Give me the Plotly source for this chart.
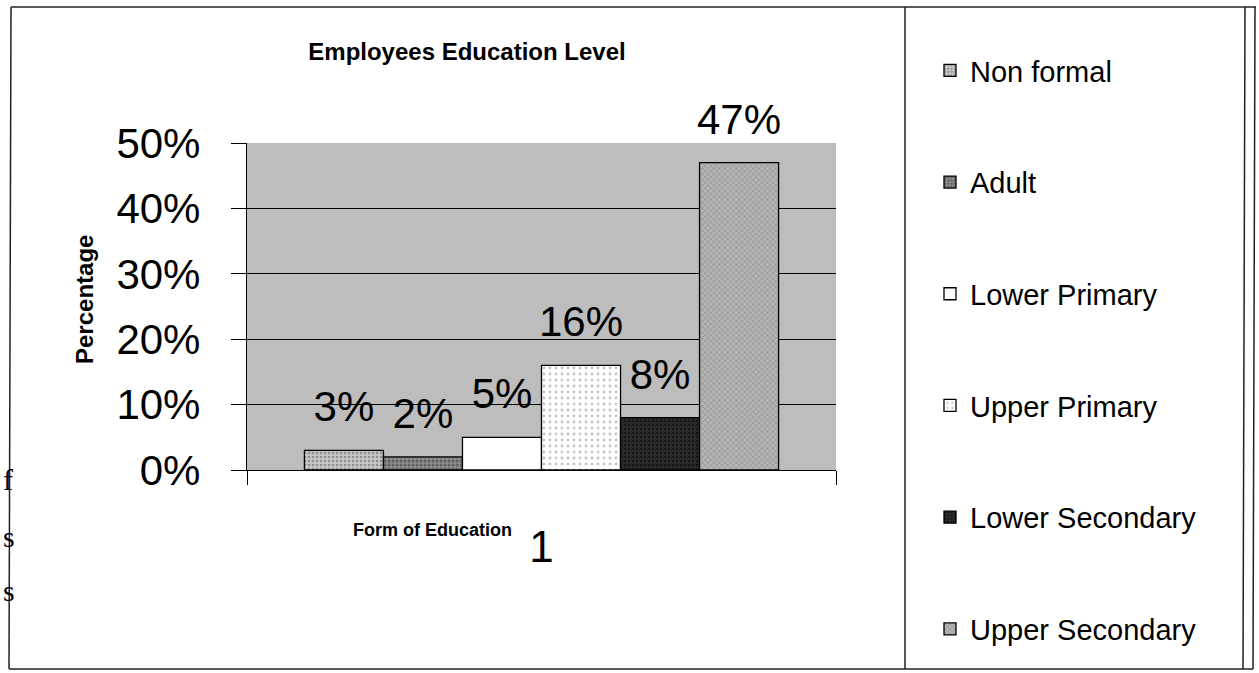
import plotly.graph_objects as go

# ---- data ----
categories = ["1"]
series_names = ["Non formal", "Adult", "Lower Primary", "Upper Primary",
                "Lower Secondary", "Upper Secondary"]
series_values = [0.03, 0.02, 0.05, 0.16, 0.08, 0.47]
y_ticks = [0.0, 0.1, 0.2, 0.3, 0.4, 0.5]
y_tick_labels = ["0%", "10%", "20%", "30%", "40%", "50%"]

# ---- styles (grayscale, print-like) ----
base_colors = ["#c6c6c6", "#8c8c8c", "#ffffff", "#ffffff", "#2a2a2a", "#b4b4b4"]
pat_shapes = [".", ".", "", ".", ".", "x"]
pat_fg = ["#555555", "#333333", "#000000", "#8a8a8a", "#000000", "#5a5a5a"]
pat_size = [4, 4, 6, 6, 4, 4]
pat_solid = [0.35, 0.45, 0.2, 0.18, 0.3, 0.25]

FONT = "Arial, 'Liberation Sans', sans-serif"
GAP = 0.195

fig = go.Figure()
for i, (name, val) in enumerate(zip(series_names, series_values)):
    fig.add_trace(go.Bar(
        name=name,
        x=categories,
        y=[val],
        legendgroup=name,
        offsetgroup=str(i),
        marker=dict(
            color=base_colors[i],
            line=dict(color="black", width=1.3),
            pattern=dict(shape=pat_shapes[i], fgcolor=pat_fg[i], size=pat_size[i],
                         solidity=pat_solid[i], fillmode="overlay"),
        ),
        hoverinfo="name+y",
    ))
# data labels as text-only scatter traces grouped like the bars
for i, (name, val) in enumerate(zip(series_names, series_values)):
    fig.add_trace(go.Scatter(
        x=categories,
        y=[val],
        offsetgroup=str(i),
        mode="markers+text",
        marker=dict(size=28, color="rgba(0,0,0,0)"),
        text=[f"{val:.0%}"],
        textposition="top center",
        textfont=dict(family=FONT, size=42, color="black"),
        cliponaxis=False,
        showlegend=False,
        hoverinfo="skip",
    ))

# pixel helpers for plot area: x 247..836, y 143..470
L, R, T, B = 247, 836, 143, 470
W, H = 1259, 673
def px(x):
    return (x - L) / (R - L)
def py(y):
    return (B - y) / (B - T)

line = dict(color="#222222", width=1.5)
shapes = [
    dict(type="line", xref="paper", yref="paper", x0=px(11), x1=px(1256), y0=py(7), y1=py(7), line=line),
    dict(type="line", xref="paper", yref="paper", x0=px(11), x1=px(9), y0=py(7), y1=py(669), line=line),
    dict(type="line", xref="paper", yref="paper", x0=px(9), x1=px(1253), y0=py(669), y1=py(669), line=line),
    dict(type="line", xref="paper", yref="paper", x0=px(905), x1=px(905), y0=py(7), y1=py(669), line=line),
    dict(type="line", xref="paper", yref="paper", x0=px(1245), x1=px(1243), y0=py(7), y1=py(669), line=line),
    dict(type="line", xref="paper", yref="paper", x0=px(1255), x1=px(1253), y0=py(7), y1=py(669), line=line),
]

serif = "'Liberation Serif', 'DejaVu Serif', serif"
annotations = [
    dict(text="<b>Form of Education</b>", xref="paper", yref="paper", x=px(432), y=py(530),
         showarrow=False, font=dict(family=FONT, size=18, color="black"), xanchor="center", yanchor="middle"),
    dict(text="<b>Percentage</b>", xref="paper", yref="paper", x=px(84), y=py(300), textangle=-90,
         showarrow=False, font=dict(family=FONT, size=24, color="black"), xanchor="center", yanchor="middle"),
    dict(text="f", xref="paper", yref="paper", x=px(1), y=py(498), showarrow=False, xanchor="left",
         font=dict(family=serif, size=30, color="black")),
    dict(text="s", xref="paper", yref="paper", x=px(1), y=py(555), showarrow=False, xanchor="left",
         font=dict(family=serif, size=30, color="black")),
    dict(text="s", xref="paper", yref="paper", x=px(1), y=py(609), showarrow=False, xanchor="left",
         font=dict(family=serif, size=30, color="black")),
]

fig.update_layout(
    width=W, height=H,
    margin=dict(l=L, r=W - R, t=T, b=H - B, pad=0),
    paper_bgcolor="white",
    plot_bgcolor="#bdbdbd",
    barmode="group",
    bargap=GAP,
    bargroupgap=0,
    scattermode="group",
    scattergap=GAP,
    font=dict(family=FONT, color="black"),
    title=dict(text="<b>Employees Education Level</b>", xref="container", yref="container",
               x=467 / W, y=1 - 52 / H, xanchor="center", yanchor="middle",
               font=dict(family=FONT, size=24, color="black")),
    showlegend=True,
    legend=dict(x=930 / W, y=1 - 45 / H, xref="container", yref="container",
                xanchor="left", yanchor="top",
                font=dict(family=FONT, size=29, color="black"),
                tracegroupgap=71, traceorder="grouped",
                maxheight=660,
                bgcolor="rgba(0,0,0,0)", borderwidth=0),
    shapes=shapes,
    annotations=annotations,
)
fig.update_xaxes(
    type="category",
    showline=True, linecolor="black", linewidth=1.3,
    ticks="outside", tickson="boundaries", ticklen=14, tickcolor="black",
    tickfont=dict(family=FONT, size=44, color="black"),
    ticklabelstandoff=38,
    showgrid=False,
)
fig.update_yaxes(
    range=[0, 0.5],
    tickvals=y_ticks, ticktext=y_tick_labels,
    showline=True, linecolor="black", linewidth=1.3,
    ticks="outside", ticklen=15, tickcolor="black",
    tickfont=dict(family=FONT, size=42, color="black"),
    ticklabelstandoff=22,
    showgrid=True, gridcolor="black", gridwidth=1,
    zeroline=False,
)

fig.write_html("out.html")
